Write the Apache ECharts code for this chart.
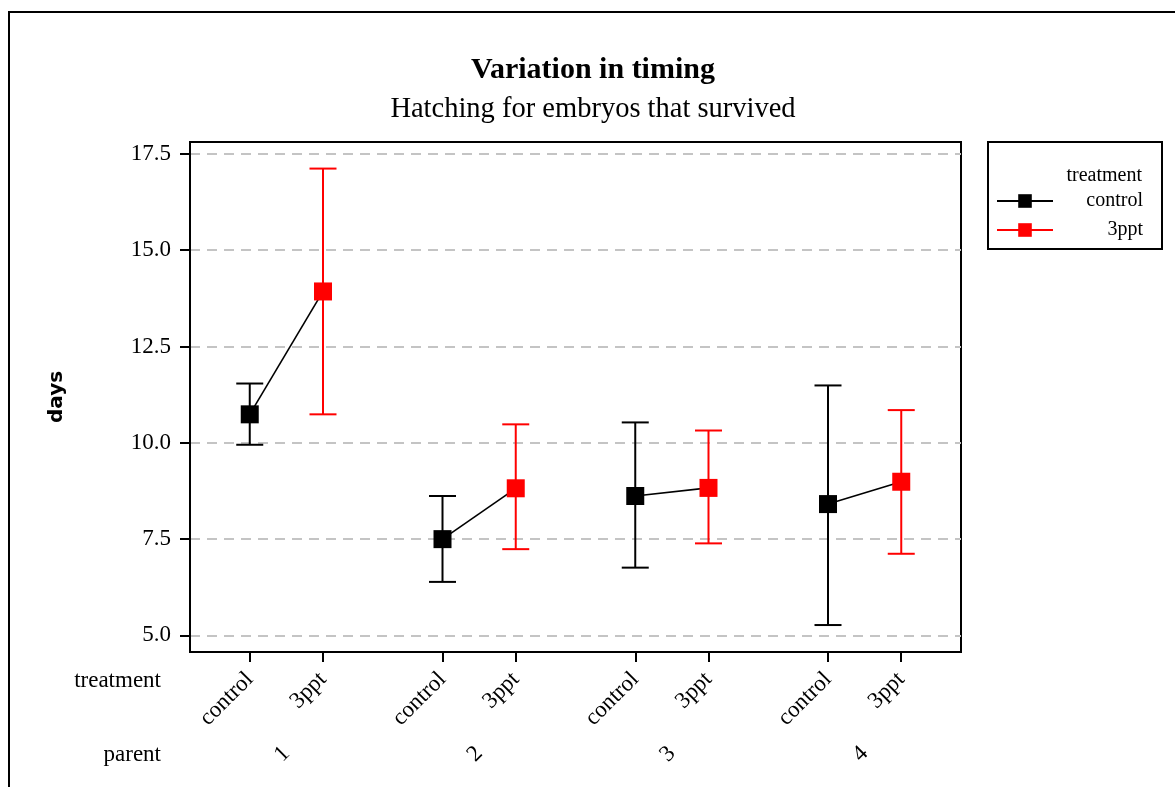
<!DOCTYPE html>
<html>
<head>
<meta charset="utf-8">
<script src="https://cdn.jsdelivr.net/npm/echarts@6/dist/echarts.min.js"></script>
<style>
  html, body { margin: 0; padding: 0; background: #fff; }
  #chart { width: 1175px; height: 787px; }
</style>
</head>
<body>
<div id="chart"></div>
<script>
// values
const parents = ['1', '2', '3', '4'];
const treatments = ['control', '3ppt'];
const controlMean = [10.74, 7.50, 8.62, 8.41];
const controlLow = [9.95, 6.39, 6.76, 5.27];
const controlHigh = [11.54, 8.62, 10.53, 11.49];
const pptMean = [13.93, 8.82, 8.83, 8.99];
const pptLow = [10.74, 7.24, 7.39, 7.12];
const pptHigh = [17.12, 10.48, 10.32, 10.85];
const yTicks = [5.0, 7.5, 10.0, 12.5, 15.0, 17.5];

const serif = 'Liberation Serif';
const shift = 0.19; // control left of the parent, 3ppt right of it

const xControl = parents.map((p, i) => i + 1 - shift);
const xPpt = parents.map((p, i) => i + 1 + shift);
const xTicks = [];
const xTickNames = [];
parents.forEach((p, i) => {
  xTicks.push(xControl[i], xPpt[i]);
  xTickNames.push(treatments[0], treatments[1]);
});

function errBar(color) {
  return function (params, api) {
    const x = api.value(0);
    const top = api.coord([x, api.value(2)]);
    const bot = api.coord([x, api.value(1)]);
    const hw = 13.5;
    const style = { stroke: color, lineWidth: 2 };
    return {
      type: 'group',
      children: [
        { type: 'line', shape: { x1: top[0], y1: top[1], x2: bot[0], y2: bot[1] }, style: style },
        { type: 'line', shape: { x1: top[0] - hw, y1: top[1], x2: top[0] + hw, y2: top[1] }, style: style },
        { type: 'line', shape: { x1: bot[0] - hw, y1: bot[1], x2: bot[0] + hw, y2: bot[1] }, style: style }
      ]
    };
  };
}

const chart = echarts.init(document.getElementById('chart'));
chart.setOption({
  animation: false,
  backgroundColor: '#fff',
  title: {
    text: 'Variation in timing',
    subtext: 'Hatching for embryos that survived',
    left: 593,
    textAlign: 'center',
    top: 53,
    padding: 0,
    itemGap: 8,
    textStyle: { fontFamily: serif, fontWeight: 'bold', fontSize: 30, color: '#000', lineHeight: 34 },
    subtextStyle: { fontFamily: serif, fontSize: 28.5, color: '#000', lineHeight: 30 }
  },
  graphic: [
    { type: 'rect', shape: { x: 9, y: 12, width: 1300, height: 900 }, style: { fill: 'none', stroke: '#000', lineWidth: 2 }, silent: true },
    { type: 'text', x: 1142, y: 176, style: { text: 'treatment', fontFamily: serif, fontSize: 20, fill: '#000', align: 'right', verticalAlign: 'middle' } },
    { type: 'text', x: 161, y: 681, style: { text: 'treatment', fontFamily: serif, fontSize: 23, fill: '#000', align: 'right', verticalAlign: 'middle' } },
    { type: 'text', x: 161, y: 755, style: { text: 'parent', fontFamily: serif, fontSize: 23, fill: '#000', align: 'right', verticalAlign: 'middle' } }
  ],
  legend: {
    orient: 'vertical',
    left: 988,
    top: 142,
    padding: [49, 19, 9, 8],
    itemGap: 9,
    itemWidth: 56,
    itemHeight: 17,
    borderColor: '#000',
    borderWidth: 2,
    selectedMode: false,
    formatter: '{r|{name}}',
    textStyle: {
      fontFamily: serif, fontSize: 20, color: '#000',
      rich: { r: { width: 85, align: 'right', fontFamily: serif, fontSize: 20, color: '#000' } }
    },
    lineStyle: { width: 2, opacity: 1 },
    data: treatments
  },
  grid: {
    left: 190, top: 142, right: 214, bottom: 135,
    show: true, borderColor: '#000', borderWidth: 2, backgroundColor: '#fff'
  },
  xAxis: [
    {
      type: 'value', min: 0.5, max: 4.5, position: 'bottom',
      axisLine: { show: true, onZero: false, lineStyle: { color: '#000', width: 2 } },
      axisTick: { show: true, customValues: xTicks, length: 10, lineStyle: { color: '#000', width: 2 } },
      axisLabel: {
        customValues: xTicks, rotate: 45, margin: 24,
        fontFamily: serif, fontSize: 23, color: '#000',
        formatter: function (v) {
          const i = xTicks.findIndex(t => Math.abs(t - v) < 1e-6);
          return i < 0 ? '' : xTickNames[i];
        }
      },
      splitLine: { show: false }
    },
    {
      type: 'value', min: 0.5, max: 4.5, position: 'bottom', offset: 82,
      axisLine: { show: false },
      axisTick: { show: false },
      axisLabel: {
        customValues: [1, 2, 3, 4], rotate: 45, margin: 16,
        fontFamily: serif, fontSize: 23, color: '#000',
        formatter: function (v) { return parents[Math.round(v) - 1] || ''; }
      },
      splitLine: { show: false }
    }
  ],
  yAxis: {
    type: 'value', min: 4.57, max: 17.81,
    name: 'days', nameLocation: 'middle', nameGap: 123,
    nameTextStyle: { fontFamily: 'DejaVu Sans', fontWeight: 'bold', fontSize: 20, color: '#000' },
    axisLine: { show: true, lineStyle: { color: '#000', width: 2 } },
    axisTick: { show: true, customValues: yTicks, length: 10, lineStyle: { color: '#000', width: 2 } },
    axisLabel: {
      customValues: yTicks, margin: 19,
      fontFamily: serif, fontSize: 23, color: '#000',
      formatter: function (v) { return v.toFixed(1); }
    },
    splitLine: { show: true, lineStyle: { color: '#c4c4c4', width: 2, type: [10, 7] } }
  },
  series: [
    {
      name: 'link', type: 'custom', z: 2,
      encode: { x: [0, 2], y: [1, 3] },
      data: parents.map((p, i) => [xControl[i], controlMean[i], xPpt[i], pptMean[i]]),
      renderItem: function (params, api) {
        const a = api.coord([api.value(0), api.value(1)]);
        const b = api.coord([api.value(2), api.value(3)]);
        return { type: 'line', shape: { x1: a[0], y1: a[1], x2: b[0], y2: b[1] }, style: { stroke: '#000', lineWidth: 1.6 } };
      }
    },
    {
      name: 'controlErr', type: 'custom', z: 2,
      encode: { x: 0, y: [1, 2] },
      data: parents.map((p, i) => [xControl[i], controlLow[i], controlHigh[i]]),
      renderItem: errBar('#000')
    },
    {
      name: 'pptErr', type: 'custom', z: 2,
      encode: { x: 0, y: [1, 2] },
      data: parents.map((p, i) => [xPpt[i], pptLow[i], pptHigh[i]]),
      renderItem: errBar('#ff0000')
    },
    {
      name: 'control', type: 'line', z: 3,
      symbol: 'rect', symbolSize: 18,
      itemStyle: { color: '#000' },
      lineStyle: { color: '#000', opacity: 0 },
      data: parents.map((p, i) => [xControl[i], controlMean[i]])
    },
    {
      name: '3ppt', type: 'line', z: 3,
      symbol: 'rect', symbolSize: 18,
      itemStyle: { color: '#ff0000' },
      lineStyle: { color: '#ff0000', opacity: 0 },
      data: parents.map((p, i) => [xPpt[i], pptMean[i]])
    }
  ]
});
</script>
</body>
</html>
